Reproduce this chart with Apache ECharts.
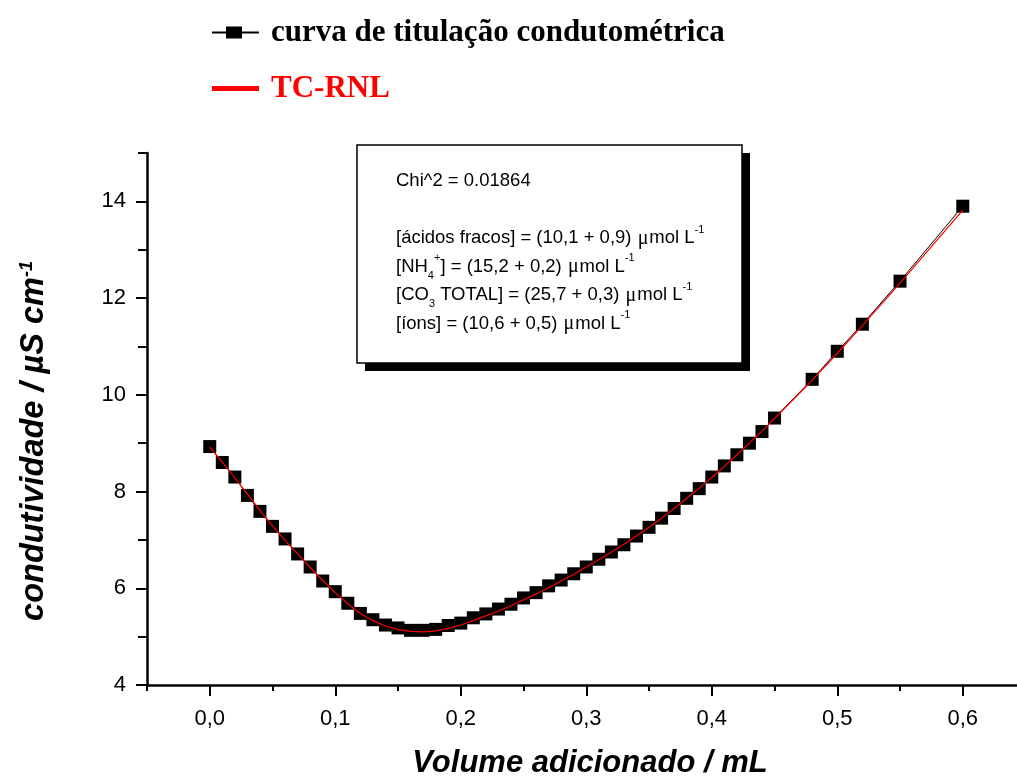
<!DOCTYPE html>
<html>
<head>
<meta charset="utf-8">
<script src="https://cdn.jsdelivr.net/npm/echarts@6/dist/echarts.min.js"></script>
<style>
html,body{margin:0;padding:0;background:#fff;}
#chart{width:1017px;height:784px;}
</style>
</head>
<body>
<div id="chart"></div>
<script>
// ---- data ----
var volume = [0.00,0.01,0.02,0.03,0.04,0.05,0.06,0.07,0.08,0.09,0.10,0.11,0.12,0.13,0.14,0.15,0.16,0.17,0.18,0.19,0.20,0.21,0.22,0.23,0.24,0.25,0.26,0.27,0.28,0.29,0.30,0.31,0.32,0.33,0.34,0.35,0.36,0.37,0.38,0.39,0.40,0.41,0.42,0.43,0.44,0.45,0.48,0.50,0.52,0.55,0.60];
var measured = [8.93,8.60,8.30,7.92,7.59,7.28,7.02,6.71,6.44,6.15,5.93,5.69,5.48,5.35,5.24,5.18,5.13,5.13,5.15,5.23,5.28,5.39,5.47,5.57,5.67,5.80,5.91,6.05,6.17,6.30,6.44,6.60,6.75,6.90,7.08,7.26,7.45,7.65,7.86,8.06,8.30,8.53,8.76,9.00,9.24,9.52,10.32,10.90,11.46,12.35,13.90];
var fitted = [8.92,8.61,8.28,7.95,7.61,7.29,6.99,6.71,6.43,6.16,5.91,5.68,5.48,5.33,5.22,5.15,5.11,5.10,5.12,5.17,5.24,5.33,5.43,5.53,5.64,5.76,5.88,6.01,6.15,6.29,6.44,6.59,6.75,6.91,7.08,7.26,7.45,7.65,7.86,8.07,8.29,8.52,8.76,9.00,9.25,9.51,10.30,10.86,11.43,12.31,13.82];
var xMajorTicks = [0.0,0.1,0.2,0.3,0.4,0.5,0.6];
var xMinorTicks = [-0.05,0.05,0.15,0.25,0.35,0.45,0.55];
var yMajorTicks = [4,6,8,10,12,14];
var yMinorTicks = [5,7,9,11,13,15];
var seriesNames = ['curva de titulação condutométrica','TC-RNL'];
var boxLines = [
  'Chi^2 = 0.01864',
  ' ',
  '[ácidos fracos] = (10,1 + 0,9) {mu|μ}mol L{sup|-1}',
  '[NH{sub|4}{sup|+}] = (15,2 + 0,2) {mu|μ}mol L{sup|-1}',
  '[CO{sub|3} TOTAL] = (25,7 + 0,3) {mu|μ}mol L{sup|-1}',
  '[íons] = (10,6 + 0,5) {mu|μ}mol L{sup|-1}'
];

var measuredPts = volume.map(function(v,i){return [v, measured[i]];});
var fittedPts = volume.map(function(v,i){return [v, fitted[i]];});

var chart = echarts.init(document.getElementById('chart'), null, {renderer:'canvas'});
var axisFont = 'Liberation Sans, Arial, sans-serif';
var option = {
  animation:false,
  backgroundColor:'#fff',
  legend:{
    orient:'vertical',
    left:212, top:17, padding:0,
    itemWidth:47, itemHeight:12, itemGap:25,
    symbolKeepAspect:true,
    textStyle:{fontFamily:'Liberation Serif, Times New Roman, serif', fontWeight:'bold', fontSize:31, lineHeight:31, padding:[0,0,0,7]},
    data:[
      {name:seriesNames[0], icon:'path://M0,5H47V7H0ZM14,0H30V12H14Z', textStyle:{color:'#000'}},
      {name:seriesNames[1], icon:'path://M0,0H47V5H0Z', textStyle:{color:'#ff0000'}}
    ]
  },
  grid:{left:147, top:153, width:870, height:537, containLabel:false},
  xAxis:[{
    type:'value', min:-0.05, max:0.6432, position:'bottom',
    axisLine:{show:true, onZero:false, lineStyle:{color:'#000', width:2.5}},
    axisTick:{show:true, inside:false, length:11, lineStyle:{color:'#000', width:2}, customValues:xMajorTicks},
    axisLabel:{customValues:xMajorTicks, color:'#000', fontSize:22, fontFamily:axisFont, margin:23,
      formatter:function(v){return v.toFixed(1).replace('.',',');}},
    splitLine:{show:false},
    name:'Volume adicionado / mL', nameLocation:'middle', nameGap:63,
    nameTextStyle:{color:'#000', fontSize:31, fontWeight:'bold', fontStyle:'italic', fontFamily:axisFont, padding:[0,0,0,16]}
  },{
    type:'value', min:-0.05, max:0.6432, position:'bottom',
    axisLine:{show:false, onZero:false},
    axisTick:{show:true, length:6, lineStyle:{color:'#000', width:2}, customValues:xMinorTicks},
    axisLabel:{show:false},
    splitLine:{show:false}
  }],
  yAxis:[{
    type:'value', min:4, max:15, position:'left',
    axisLine:{show:true, onZero:false, lineStyle:{color:'#000', width:2.5}},
    axisTick:{show:true, length:11, lineStyle:{color:'#000', width:2}, customValues:yMajorTicks},
    axisLabel:{customValues:yMajorTicks, color:'#000', fontSize:22, fontFamily:axisFont, margin:21},
    splitLine:{show:false},
    name:'condutividade / {mu|µ}S cm{sup|-1}', nameLocation:'middle', nameGap:96, nameRotate:90,
    nameTextStyle:{color:'#000', fontSize:32.5, fontWeight:'bold', fontStyle:'italic', fontFamily:axisFont, padding:[0,44,0,0],
      rich:{
        mu:{fontSize:32.5, fontWeight:'bold', fontStyle:'italic', fontFamily:axisFont, color:'#000'},
        sup:{fontSize:18, fontWeight:'bold', fontStyle:'italic', fontFamily:axisFont, color:'#000', verticalAlign:'top', lineHeight:18}
      }}
  },{
    type:'value', min:4, max:15, position:'left',
    axisLine:{show:false, onZero:false},
    axisTick:{show:true, length:9, lineStyle:{color:'#000', width:2}, customValues:yMinorTicks},
    axisLabel:{show:false},
    splitLine:{show:false}
  }],
  series:[{
    name:seriesNames[0], type:'line', xAxisIndex:0, yAxisIndex:0,
    data:measuredPts, symbol:'rect', symbolSize:13, showSymbol:true,
    itemStyle:{color:'#000'}, lineStyle:{color:'#000', width:1}, z:2
  },{
    name:seriesNames[1], type:'line', xAxisIndex:0, yAxisIndex:0,
    data:fittedPts, symbol:'none', smooth:false,
    itemStyle:{color:'#ff0000'}, lineStyle:{color:'#ff0000', width:1.2}, z:3
  }],
  graphic:[
    {type:'rect', shape:{x:365,y:153,width:385,height:218}, style:{fill:'#000'}, z:10},
    {type:'rect', shape:{x:357,y:145,width:385,height:218}, style:{fill:'#fff', stroke:'#000', lineWidth:1.5}, z:11},
    {type:'text', x:396, y:167, z:12, style:{
      text: boxLines.join('\n'),
      fill:'#000', font:'18.5px Liberation Sans, Arial, sans-serif', lineHeight:28.5,
      textAlign:'left', textVerticalAlign:'top',
      rich:{
        mu:{fontSize:20, fontFamily:'Liberation Serif, serif', lineHeight:28.5, padding:[0,1,0,1]},
        sup:{fontSize:11, fontFamily:axisFont, verticalAlign:'top', lineHeight:19},
        sub:{fontSize:11, fontFamily:axisFont, verticalAlign:'bottom', lineHeight:19}
      }
    }}
  ]
};
chart.setOption(option);
</script>
</body>
</html>
